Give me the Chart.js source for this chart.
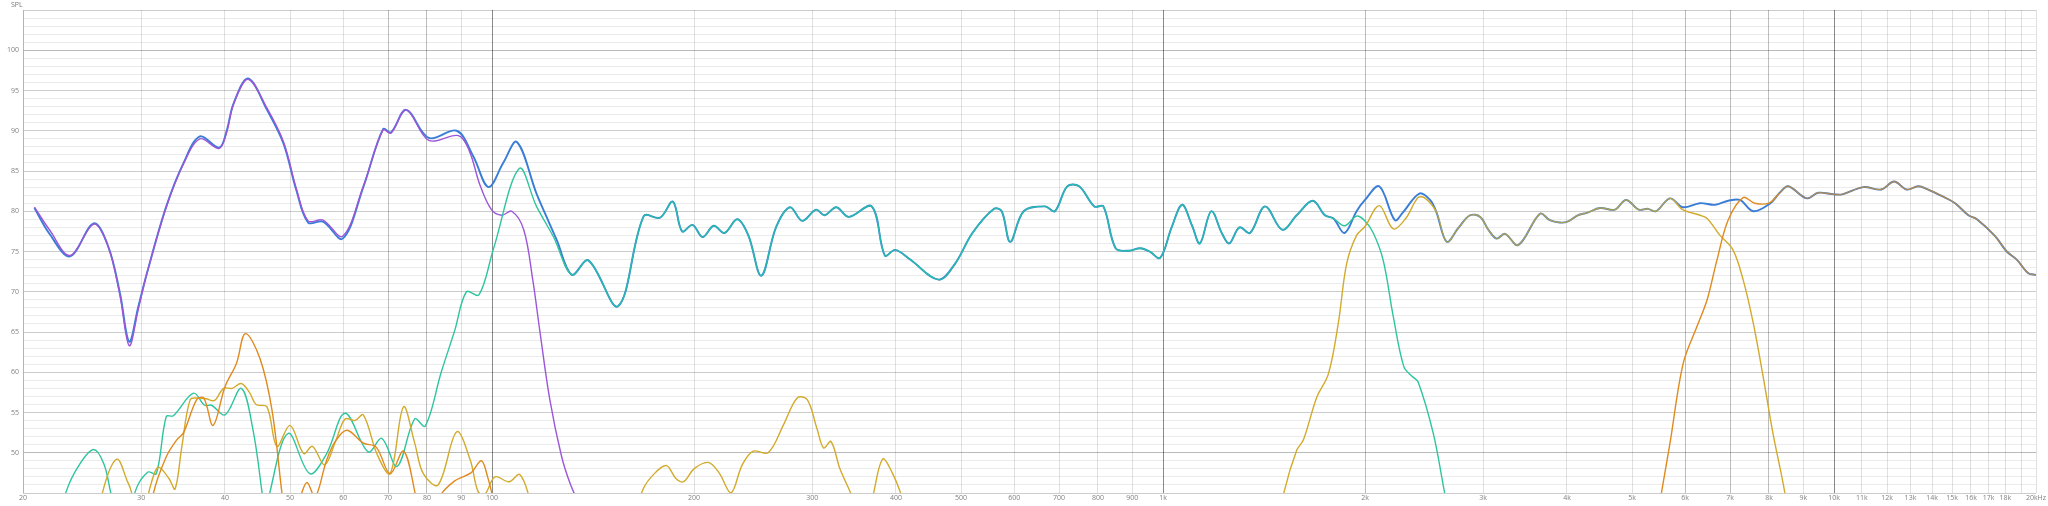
<!DOCTYPE html>
<html lang="en">
<head>
<meta charset="UTF-8">
<title>SPL - frequency response</title>
<script src="https://cdn.jsdelivr.net/npm/chart.js"></script>
<style>
    html, body { margin: 0; padding: 0; background: #fff; }
    #chart { display: block; }
</style>
</head>
<body>
<canvas id="chart" width="2048" height="506"></canvas>
<script>
    // frequencies in Hz, levels in dB SPL
    const xTicks = [20, 30, 40, 50, 60, 70, 80, 90, 100, 200, 300, 400, 500, 600, 700, 800, 900,
        1000, 2000, 3000, 4000, 5000, 6000, 7000, 8000, 9000, 10000, 11000, 12000, 13000, 14000,
        15000, 16000, 17000, 18000, 19000, 20000];
    const xHidden = [19000];
    const yLabels = [50, 55, 60, 65, 70, 75, 80, 85, 90, 95, 100];

    // total response, low end
    const totalLowFreq = [20.8, 21.9, 23.5, 25.5, 26.8, 27.9, 28.8, 29.7, 30.6, 32.7, 34.7, 36.7, 39.2, 40.2,
        41.2, 43.3, 46.2, 48.9, 51.1, 53.2, 56, 59.9, 64.3, 68.8, 70.7, 74.5, 80.5, 88.6, 93.8, 98.8,
        103.9, 108.9, 116.5, 120.6, 124.9];
    const totalLowSpl = [80.4, 77.2, 74.4, 78.5, 75.6, 69.8, 63.8, 68.1, 72.3, 80.6, 86.0, 89.3, 87.9, 89.9,
        93.4, 96.5, 92.6, 88.4, 82.6, 78.6, 78.7, 76.6, 83.0, 90.2, 89.8, 92.6, 89.1, 90.0, 86.8, 83.0,
        86.0, 88.6, 82.2, 79.3, 76.4];

    // band where total and mid driver run together
    const bandFreq = [131.5, 139.2, 154.1, 168.3, 178, 186, 192, 199, 206, 214, 222, 232, 241, 252, 265,
        278, 290, 304, 313, 326, 340, 368, 385, 399, 420, 463, 490, 520, 560, 575, 592, 620, 667,
        690, 720, 750, 790, 815, 850, 890, 925, 955, 990, 1030, 1068, 1105, 1135, 1180, 1225, 1255,
        1300, 1348, 1419, 1506, 1582, 1672, 1743, 1795];
    const bandSpl = [72.1, 73.9, 68.2, 79.4, 79.2, 81.2, 77.5, 78.3, 76.8, 78.2, 77.3, 79.0, 77.0, 72.0, 78.0,
        80.5, 78.8, 80.2, 79.5, 80.5, 79.3, 80.6, 74.5, 75.2, 74.0, 71.5, 73.5, 77.3, 80.3, 80.0,
        76.2, 80.0, 80.6, 80.0, 83.1, 83.1, 80.6, 80.6, 75.4, 75.1, 75.4, 75.0, 74.2, 78.0, 80.8,
        78.2, 76.0, 80.0, 77.2, 76.0, 78.0, 77.3, 80.6, 77.7, 79.5, 81.3, 79.5, 79.1];

    const totalXoverFreq = [1864, 1943, 2000, 2100, 2216, 2280, 2410, 2500];
    const totalXoverSpl = [77.3, 80.0, 81.4, 83.1, 78.9, 79.9, 82.2, 81.4];

    // band where total and tweeter run together
    const upperFreq = [2555, 2648, 2754, 2868, 2970, 3054, 3142, 3234, 3384, 3646, 3770, 3900, 4006, 4150,
        4284, 4480, 4716, 4898, 5117, 5280, 5429, 5696];
    const upperSpl = [79.9, 76.2, 77.9, 79.5, 79.3, 77.7, 76.6, 77.2, 75.8, 79.7, 78.9, 78.6, 78.7, 79.5,
        79.8, 80.4, 80.2, 81.4, 80.2, 80.3, 80.0, 81.6];

    const totalTailFreq = [5950, 6314, 6650, 6955, 7240, 7580, 8040];
    const totalTailSpl = [80.5, 81.0, 80.8, 81.3, 81.4, 80.0, 81.0];

    // band where total and super tweeter run together
    const topFreq = [8300, 8547, 9106, 9470, 10000, 10290, 11060, 11760, 12290, 12830, 13350, 13810,
        14550, 15150, 15860, 16330, 17380, 18090, 18720, 19480, 20000];
    const topSpl = [82.3, 83.1, 81.6, 82.3, 82.1, 82.1, 83.0, 82.7, 83.7, 82.7, 83.1, 82.7,
        81.8, 81.0, 79.5, 79.0, 76.9, 75.0, 74.0, 72.3, 72.1];

    // woofer
    const wooferFreq = [20.8, 21.9, 23.5, 25.5, 26.8, 27.9, 28.8, 29.7, 30.6, 32.7, 34.7, 36.7, 39.2, 40.2,
        41.2, 43.3, 46.2, 48.9, 51.1, 53.2, 56, 59.9, 64.3, 68.8, 70.7, 74.5, 80.5, 89.1, 92.5, 96,
        99.8, 103.4, 107, 111.5, 115, 117.8, 122, 127, 131, 136];
    const wooferSpl = [80.5, 77.7, 74.5, 78.4, 75.6, 69.5, 63.3, 67.8, 72.3, 80.5, 85.9, 89.0, 87.8, 89.7,
        93.3, 96.4, 92.8, 88.6, 82.8, 78.8, 78.9, 76.9, 83.1, 90.1, 89.7, 92.6, 88.8, 89.4, 87.5, 83.2,
        80.2, 79.5, 80.0, 77.7, 71.5, 65.2, 56.5, 49.5, 46, 43];

    // mid driver
    const midLowFreq = [22.5, 23.2, 24.3, 25.5, 26.4, 27.0, 28.2, 29.4, 30.7, 31.6, 32.7, 33.5, 35.9, 37.3,
        38.2, 40.0, 42.3, 44.0, 45.4, 46.0, 46.7, 49.7, 53.5, 56.7, 60.4, 65.4, 68.5, 72.2, 76.7, 79.5,
        84, 88, 91.6, 95.6, 100.4, 109.8, 116.5, 123.5];
    const midLowSpl = [40, 45.2, 48.6, 50.4, 48.6, 45.2, 38, 45.2, 47.6, 47.4, 54.5, 54.6, 57.4, 55.9,
        55.9, 54.7, 58.0, 53, 45.2, 41, 45.2, 52.4, 47.4, 49.9, 54.9, 50.1, 51.8, 48.3, 54.2, 53.3,
        60, 65.2, 70.0, 69.6, 75.2, 85.3, 80.6, 76.8];
    const midDropFreq = [1864, 1943, 2000, 2058, 2129, 2204, 2285, 2350, 2400, 2528, 2626, 2700];
    const midDropSpl = [78.2, 79.4, 78.8, 77.3, 73.9, 66.9, 60.7, 59.5, 58.8, 52.4, 45.2, 40];

    // tweeter
    const tweeterLowFreq = [25.8, 26.3, 27.6, 28.6, 29.0, 29.8, 30.6, 31.0, 31.8, 33.0, 33.7, 34.5, 35.5,
        36.5, 37.5, 38.6, 39.8, 41.0, 42.3, 43.5, 44.5, 46.2, 47.8, 50.0, 52.4, 54.0, 56.3, 58.5, 60.4,
        62.5, 64.3, 67.5, 70.5, 73.8, 76.7, 79, 83.1, 88.6, 92.8, 95.3, 97.5, 101, 106, 110, 114, 116,
        120, 160, 168, 175, 182, 188, 193, 200, 210, 218, 227, 236, 245, 258, 272, 285, 295, 305, 312,
        320, 330, 346, 355, 368, 382, 395, 410, 420, 430, 1480, 1516, 1582, 1619, 1695, 1764, 1825,
        1878, 1943, 2000, 2100, 2204, 2300, 2400, 2460];
    const tweeterLowSpl = [40, 45.2, 49.2, 46.5, 45.2, 40, 44, 46, 48.2, 46.8, 45.5, 50.8, 56.6,
        56.8, 56.7, 56.5, 58.0, 58.0, 58.6, 57.5, 56.0, 55.7, 50.8, 53.4, 49.9, 50.8, 48.5, 51.5, 54.2,
        54.0, 54.7, 49.7, 47.4, 55.7, 51.2, 47.4, 46.0, 52.6, 49.1, 45.2, 44.8, 47.0, 46.4, 47.3, 44, 40,
        null, 40, 45.5, 47.5, 48.4, 46.8, 46.4, 48.0, 48.8, 47.5, 45.0, 48.5, 50.2, 50.0, 53.5, 56.8,
        56.6, 53, 50.6, 51.4, 48, 44, 40, 44, 49.2, 47.5, 44, 40, null, 40, 45.2, 50.3, 51.6, 56.9,
        59.8, 66.1, 73.5, 77.0, 78.1, 80.7, 77.8, 79.1, 81.7, 81.6];
    const tweeterFallFreq = [5950, 6314, 6470, 6764, 7070, 7320, 7580, 7840, 8110, 8440, 8600];
    const tweeterFallSpl = [80.2, 79.5, 79.1, 77.0, 75.2, 71.5, 66.1, 59.5, 52.4, 45.2, 40];

    // super tweeter
    const superLowFreq = [30.8, 31.3, 32.7, 33.9, 34.7, 36.3, 37.2, 38.4, 40, 41.6, 42.9, 45.1, 47, 48.6,
        49.5, 51.8, 53, 54.5, 56.7, 58.5, 60.8, 64.3, 67.2, 70.5, 73.8, 76.7, 78.5, 82, 83.6, 88, 93,
        96.4, 98.5, 100.5, 102, 110, 5400];
    const superLowSpl = [40, 45, 49.5, 51.6, 52.5, 56.6, 56.8, 53.4, 58.2, 61.1, 64.8, 61.7, 55.3, 45.2,
        40, 44.5, 46.3, 44.5, 49.1, 51.5, 52.8, 51.2, 50.7, 47.4, 50.2, 45.2, 40, 40, 44.5, 46.5, 47.5,
        49, 47, 44, 40, null, 40];
    const superRiseFreq = [5536, 5696, 5960, 6250, 6470, 6690, 6955, 7320, 7620, 8000, 8200];
    const superRiseSpl = [45.2, 51.2, 61.1, 65.7, 69.0, 73.9, 78.9, 81.7, 81.0, 81.0, 81.8];

    function points(freqs, spls) {
        return freqs.map((f, i) => ({ x: f, y: spls[i] }));
    }

    const totalData = [].concat(points(totalLowFreq, totalLowSpl), points(bandFreq, bandSpl),
        points(totalXoverFreq, totalXoverSpl), points(upperFreq, upperSpl),
        points(totalTailFreq, totalTailSpl), points(topFreq, topSpl));
    const wooferData = points(wooferFreq, wooferSpl);
    const midData = [].concat(points(midLowFreq, midLowSpl), points(bandFreq, bandSpl),
        points(midDropFreq, midDropSpl));
    const tweeterData = [].concat(points(tweeterLowFreq, tweeterLowSpl), points(upperFreq, upperSpl),
        points(tweeterFallFreq, tweeterFallSpl));
    const superData = [].concat(points(superLowFreq, superLowSpl), points(superRiseFreq, superRiseSpl),
        points(topFreq, topSpl));

    const fontFamily = "'Open Sans', 'DejaVu Sans', sans-serif";

    function xLabel(v) {
        if (xHidden.includes(v)) return '';
        if (v === 20000) return '20kHz';
        if (v >= 1000) return (v / 1000) + 'k';
        return String(v);
    }

    // translucent grid so crossings never punch holes in the darker lines
    function xGridColor(ctx) {
        const v = ctx.tick ? ctx.tick.value : 0;
        if (v === 100 || v === 1000 || v === 10000) return 'rgba(0,0,0,0.46)';
        if ([70, 80, 2000, 6000, 7000, 8000].includes(v)) return 'rgba(0,0,0,0.26)';
        return 'rgba(0,0,0,0.12)';
    }

    function yGridColor(ctx) {
        const v = ctx.tick ? ctx.tick.value : 0;
        if (v === 50 || v === 100) return 'rgba(0,0,0,0.27)';
        if (v % 5 === 0) return 'rgba(0,0,0,0.2)';
        return 'rgba(0,0,0,0.08)';
    }

    const cornerLabel = {
        id: 'cornerLabel',
        afterDraw(chart) {
            const c = chart.ctx;
            c.save();
            c.font = '7px ' + fontFamily;
            c.fillStyle = '#777';
            c.textBaseline = 'middle';
            c.fillText('SPL', 11, 5);
            c.restore();
        }
    };

    // where a driver overlays the total, let the blue show through a little
    function overlay(fromHz, toHz, color) {
        return ctx => (ctx.p0.parsed.x >= fromHz && ctx.p1.parsed.x <= toHz) ? color : undefined;
    }

    function line(label, data, color, width, order, shared) {
        const ds = {
            label: label,
            data: data,
            borderColor: color,
            backgroundColor: color,
            borderWidth: width,
            pointRadius: 0,
            tension: 0.35,
            fill: false,
            spanGaps: false,
            order: order
        };
        if (shared) ds.segment = { borderColor: overlay(shared[0], shared[1], shared[2]) };
        return ds;
    }

    new Chart(document.getElementById('chart').getContext('2d'), {
        type: 'line',
        data: {
            datasets: [
                line('Super tweeter', superData, '#e08a1e', 1.4, 1, [8300, 20000, 'rgba(214,140,40,0.72)']),
                line('Tweeter', tweeterData, '#d2aa2c', 1.4, 2, [2555, 5696, 'rgba(210,170,44,0.75)']),
                line('Mid', midData, '#2ec59e', 1.4, 3, [131.5, 1795, 'rgba(36,196,168,0.85)']),
                line('Woofer', wooferData, '#9c56d8', 1.4, 4),
                line('Total', totalData, '#3a7dd6', 1.9, 5)
            ]
        },
        options: {
            responsive: false,
            animation: false,
            events: [],
            parsing: false,
            layout: { padding: { top: 10, right: 12, left: 0, bottom: 0 } },
            plugins: {
                legend: { display: false },
                tooltip: { enabled: false },
                title: { display: false }
            },
            scales: {
                x: {
                    type: 'logarithmic',
                    min: 20,
                    max: 20000,
                    afterBuildTicks: s => { s.ticks = xTicks.map(v => ({ value: v })); },
                    afterFit: s => { s.height = 13; },
                    ticks: {
                        autoSkip: false,
                        maxRotation: 0,
                        padding: 1,
                        color: '#808080',
                        font: { size: 7, family: fontFamily },
                        callback: v => xLabel(v)
                    },
                    grid: { drawTicks: false, color: xGridColor, lineWidth: 1 },
                    border: { display: false }
                },
                y: {
                    min: 45,
                    max: 105,
                    afterFit: s => { s.width = 23; },
                    ticks: {
                        stepSize: 1,
                        autoSkip: false,
                        padding: 4,
                        color: '#808080',
                        font: { size: 7, family: fontFamily },
                        callback: v => yLabels.includes(v) ? String(v) : ''
                    },
                    grid: { drawTicks: false, color: yGridColor, lineWidth: 1 },
                    border: { display: true, color: 'rgba(0,0,0,0.2)' }
                }
            }
        },
        plugins: [cornerLabel]
    });
</script>
</body>
</html>
